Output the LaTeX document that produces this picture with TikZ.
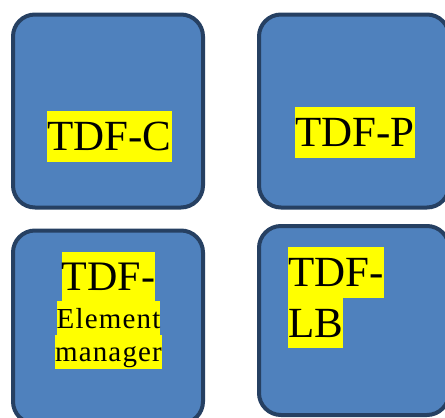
\documentclass[tikz,border=0pt]{standalone}
\usepackage{fontspec}
\setmainfont{Liberation Serif}
\usepackage{xcolor}
\usepackage{tikz}
\usetikzlibrary{positioning}
\definecolor{tdfblue}{RGB}{79, 129, 189}
\definecolor{tdfedge}{RGB}{38, 64, 98}
\definecolor{tdfmark}{RGB}{255, 255, 0}
\newcommand{\tdfhl}[1]{{\setlength{\fboxsep}{0pt}\colorbox{tdfmark}{\rule[-0.25em]{0pt}{1.17em}#1}}}
\newfontfamily\tdfwide[LetterSpace=4]{Liberation Serif}

\begin{document}
\begin{tikzpicture}[x=1pt, y=-1pt,
    tdfbox/.style={rectangle, rounded corners=22pt, draw=tdfedge, fill=tdfblue,
      line width=4pt, minimum width=190pt, minimum height=193pt},
    tdftext/.style={inner sep=0pt, text=black, font=\fontsize{43pt}{0pt}\selectfont,
      execute at begin node={\setlength{\lineskip}{0pt}\setlength{\lineskiplimit}{0pt}}}]
    \clip (0,0) rectangle (445,418);
    \useasboundingbox (0,0) rectangle (445,418);

    \node[tdfbox] (tdfc) at (108,111) {};
    \node[tdfbox] (tdfp) at (354,111) {};
    \node[tdfbox] (tdfem) at (108,327) {};
    \node[tdfbox, minimum height=189pt] (tdflb) at (354,320.5) {};

    \node[tdftext] (lblc) at (109.5,136.5) {\tdfhl{TDF-C}};
    \node[tdftext] (lblp) at (355,132.5) {\tdfhl{TDF-P}};
    \node[tdftext, align=center, anchor=north] (lblem) at (108.5,252)
      {{\fontsize{42pt}{0pt}\selectfont\tdfhl{TDF-}}\\
       {\tdfwide\fontsize{29pt}{0pt}\selectfont\tdfhl{Element}}\\
       {\tdfwide\fontsize{29pt}{0pt}\selectfont\tdfhl{manager}}};
    \node[tdftext, align=left, anchor=north west] (lbllb) at (288,247)
      {\tdfhl{TDF-}\\\tdfhl{LB}};
  \end{tikzpicture}
\end{document}
